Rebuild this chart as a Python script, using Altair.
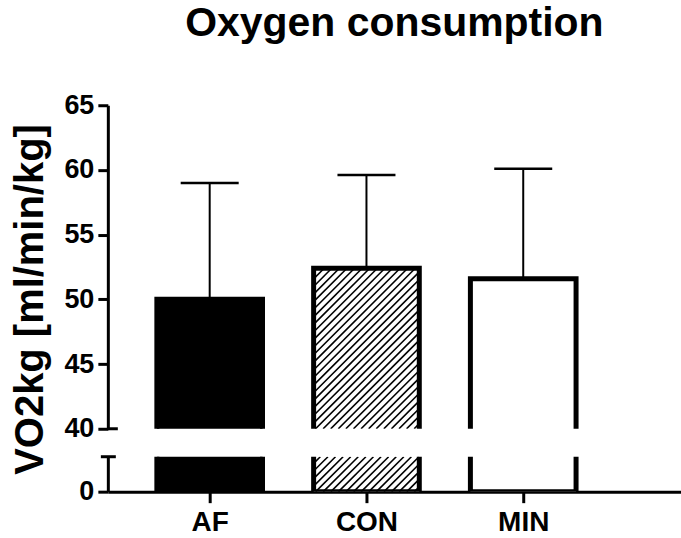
import altair as alt
import pandas as pd
import numpy as np

# ---- data ----
groups = ["AF", "CON", "MIN"]
means = [50.0, 52.4, 51.6]
sd_tops = [59.0, 59.6, 60.1]
fills = ["black", "white", "white"]
hatched = [False, True, False]

FONT = "Liberation Sans"
W = 574
H_TOP, H_BOT = 324, 35
X_DOM = [-102 / 157, (W - 102) / 157]
PX_PER_X = W / (X_DOM[1] - X_DOM[0])
TOP_DOM = [40, 65]
BOT_DOM = [0, 10]
HALF = 0.337
CAP = 0.185

df = pd.DataFrame({
    "group": groups,
    "xc": list(range(len(groups))),
    "mean": means,
    "top": sd_tops,
    "fill": fills,
})
df["x0"] = df["xc"] - HALF
df["x1"] = df["xc"] + HALF
df["c0"] = df["xc"] - CAP
df["c1"] = df["xc"] + CAP
df["zero"] = 0.0

xs = alt.Scale(domain=X_DOM, nice=False, zero=False)


def hatch_lines(dom, height, step=7.6):
    ppu = height / (dom[1] - dom[0])
    rows = []
    for i, g in enumerate(groups):
        if not hatched[i]:
            continue
        x0 = (i - HALF - X_DOM[0]) * PX_PER_X
        x1 = (i + HALF - X_DOM[0]) * PX_PER_X
        y0 = max(0.0, (dom[1] - means[i]) * ppu)
        y1 = height
        c = np.floor((x0 + y0) / step) * step
        while c <= x1 + y1 + step:
            xa = max(x0, c - y1)
            xb = min(x1, c - y0)
            if xb > xa:
                rows.append({
                    "hx": X_DOM[0] + xa / PX_PER_X,
                    "hy": dom[1] - (c - xa) / ppu,
                    "hx2": X_DOM[0] + xb / PX_PER_X,
                    "hy2": dom[1] - (c - xb) / ppu,
                })
            c += step
    return pd.DataFrame(rows)


def panel(dom, height, top):
    ys = alt.Scale(domain=dom, nice=False, zero=False)
    base = alt.Chart(df)
    if top:
        yaxis = alt.Axis(values=list(range(40, 66, 5)), title="VO2kg [ml/min/kg]",
                         titleFontSize=40, titleFont=FONT, titleFontWeight="bold",
                         titleColor="black", titleX=-57, titleY=194,
                         titleBaseline="bottom", titleAngle=270)
        xenc = alt.X("x0:Q", scale=xs, axis=None)
    else:
        yaxis = alt.Axis(values=[0], title=None)
        xenc = alt.X(
            "x0:Q", scale=xs,
            axis=alt.Axis(values=[0, 1, 2],
                          labelExpr="datum.value == 0 ? 'AF' : datum.value == 1 ? 'CON' : 'MIN'",
                          title=None, tickSize=11, labelPadding=6, labelFontSize=28))
    fill = base.mark_rect(clip=True, strokeWidth=0).encode(
        x=xenc,
        x2="x1:Q",
        y=alt.Y("mean:Q", scale=ys, axis=yaxis),
        y2="zero:Q",
        fill=alt.Fill("fill:N", scale=None),
    )
    hd = hatch_lines(dom, height)
    hatch = alt.Chart(hd).mark_rule(clip=True, strokeWidth=1.6, color="black").encode(
        x=alt.X("hx:Q", scale=xs), x2="hx2:Q",
        y=alt.Y("hy:Q", scale=ys), y2="hy2:Q",
    )
    outline = base.mark_rect(clip=True, fillOpacity=0, stroke="black", strokeWidth=5).encode(
        x=alt.X("x0:Q", scale=xs), x2="x1:Q",
        y=alt.Y("mean:Q", scale=ys), y2="zero:Q",
    )
    layers = [fill, hatch, outline]
    if top:
        err = base.mark_rule(color="black", strokeWidth=2).encode(
            x=alt.X("xc:Q", scale=xs), y=alt.Y("mean:Q", scale=ys), y2="top:Q")
        cap = base.mark_rule(color="black", strokeWidth=2.5).encode(
            x=alt.X("c0:Q", scale=xs), x2="c1:Q", y=alt.Y("top:Q", scale=ys))
        brk = alt.Chart(df.head(1)).mark_rule(color="black", strokeWidth=3).encode(
            x=alt.value(0), x2=alt.value(10), y=alt.value(height))
        layers += [err, cap, brk]
    else:
        brk = alt.Chart(df.head(1)).mark_rule(color="black", strokeWidth=3).encode(
            x=alt.value(-7), x2=alt.value(8), y=alt.value(0))
        layers += [brk]
    ch = alt.layer(*layers).properties(width=W, height=height)
    if top:
        ch = ch.properties(title=alt.TitleParams(
            "Oxygen consumption", fontSize=41, font=FONT, fontWeight="bold",
            color="black", anchor="middle", frame="group", offset=46))
    return ch


top = panel(TOP_DOM, H_TOP, True)
bot = panel(BOT_DOM, H_BOT, False)

chart = alt.vconcat(top, bot, spacing=28, bounds="flush").properties(
    padding={"left": 10, "top": 3, "right": 0, "bottom": 0},
    background="white",
).configure_view(stroke=None).configure_axis(
    grid=False, domainColor="black", domainWidth=3, tickColor="black",
    tickWidth=3, tickSize=10, labelFont=FONT, labelFontWeight="bold",
    labelFontSize=27, labelColor="black", labelPadding=4,
)

chart.save("out.html", embed_options={"renderer": "svg", "actions": False})
